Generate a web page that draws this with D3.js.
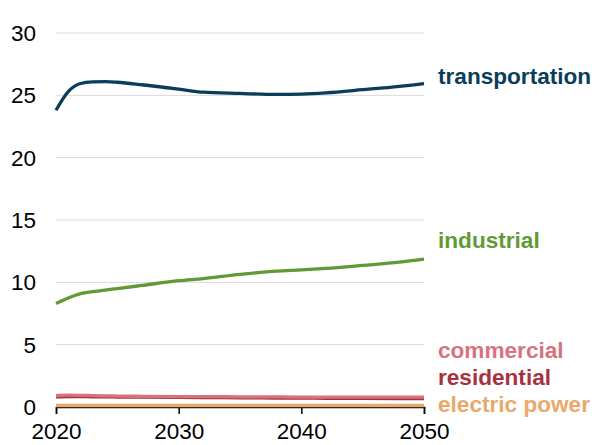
<!DOCTYPE html>
<html><head><meta charset="utf-8">
<script src="https://cdn.jsdelivr.net/npm/d3@7"></script>
<style>body{margin:0;background:#fff}svg{display:block;font-family:"Liberation Sans",Arial,sans-serif}</style>
</head><body><svg id="c" width="595" height="445"></svg>
<script>
const years = [2020,2021,2022,2023,2024,2025,2027,2030,2032,2035,2038,2040,2042,2045,2048,2050];
const transportation = [23.8,25.3,25.95,26.08,26.1,26.05,25.85,25.5,25.25,25.15,25.07,25.1,25.2,25.45,25.72,25.95];
const industrial = [8.3,8.75,9.1,9.25,9.38,9.5,9.75,10.13,10.3,10.64,10.9,11.0,11.12,11.36,11.62,11.87];
const commercial = [0.92,0.95,0.94,0.92,0.9,0.88,0.86,0.84,0.83,0.82,0.81,0.8,0.8,0.8,0.8,0.8];
const residential = [0.82,0.84,0.83,0.82,0.81,0.8,0.79,0.77,0.76,0.74,0.72,0.71,0.7,0.69,0.68,0.67];
const electric = [0.12,0.12,0.12,0.12,0.12,0.12,0.12,0.12,0.12,0.12,0.12,0.12,0.12,0.12,0.12,0.12];
const yTicks = [0,5,10,15,20,25,30];
const xTicks = [2020,2030,2040,2050];
const seriesNames = ["electric power","residential","commercial","industrial","transportation"];
const seriesData = [electric,residential,commercial,industrial,transportation];
const colors = ["#e8a96b","#a8313f","#d9717e","#5f9a35","#0a3d59"];
const labelY = [412,385,358,248,84];

const svg = d3.select("#c");
const x = d3.scaleLinear().domain([2020,2050]).range([56,424]);
const y = d3.scaleLinear().domain([0,30]).range([407,33]);

svg.append("g").selectAll("line").data(yTicks.filter(d=>d>0)).join("line")
  .attr("x1",56).attr("x2",424).attr("y1",d=>y(d)).attr("y2",d=>y(d))
  .attr("stroke","#d9d9d9").attr("stroke-width",1);

svg.append("g").selectAll("text").data(yTicks).join("text")
  .attr("x",36).attr("y",d=>y(d)+8).attr("text-anchor","end")
  .attr("font-size",22.5).attr("fill","#000").text(d=>d);

const xa = svg.append("g").attr("transform","translate(0,407)")
  .call(d3.axisBottom(x).tickValues(xTicks).tickFormat(d3.format("d")).tickSize(7).tickPadding(9));
xa.select(".domain").attr("stroke","#000").attr("stroke-width",1.5);
xa.selectAll(".tick line").attr("stroke","#000").attr("stroke-width",1.5);
xa.selectAll(".tick text").attr("font-size",22.5).attr("fill","#000").attr("font-family","Liberation Sans, Arial, sans-serif");

const line = d3.line().x((d,i)=>x(years[i])).y(d=>y(d)).curve(d3.curveMonotoneX);
seriesData.forEach((s,k)=>{
  svg.append("path").datum(s).attr("d",line).attr("fill","none")
    .attr("stroke",colors[k]).attr("stroke-width",3.3).attr("stroke-linejoin","round");
});
seriesNames.forEach((n,k)=>{
  svg.append("text").attr("x",438).attr("y",labelY[k]).attr("font-size",22.6)
    .attr("font-weight","bold").attr("fill",colors[k]).text(n);
});
</script></body></html>
